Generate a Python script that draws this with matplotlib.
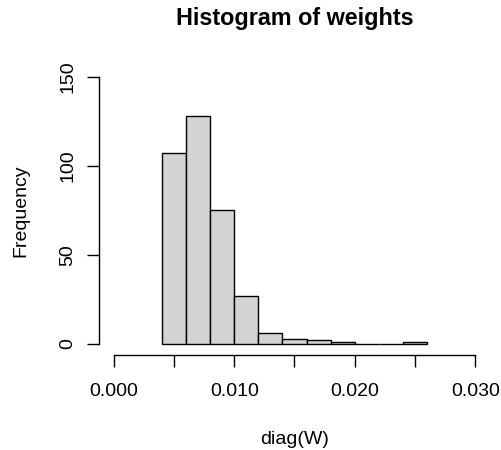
import matplotlib
matplotlib.use("Agg")
import matplotlib.pyplot as plt

# Datos del histograma
bordes = [0.004, 0.006, 0.008, 0.010, 0.012, 0.014, 0.016, 0.018, 0.020, 0.022, 0.024, 0.026]
frecuencias = [107, 128, 75, 27, 6, 3, 2, 1, 0, 0, 1]
ticks_x = [0.000, 0.005, 0.010, 0.015, 0.020, 0.025, 0.030]
etiquetas_x = ["0.000", "", "0.010", "", "0.020", "", "0.030"]
ticks_y = [0, 50, 100, 150]
etiquetas_y = ["0", "50", "100", "150"]

plt.rcParams["font.family"] = ["Liberation Sans", "DejaVu Sans"]

fig = plt.figure(figsize=(5.02, 4.5), dpi=100)
ax = fig.add_axes([0.1976, 0.2118, 0.7781, 0.6416])

anchos = [b - a for a, b in zip(bordes[:-1], bordes[1:])]
ax.bar(bordes[:-1], frecuencias, width=anchos, align="edge",
       color="#D3D3D3", edgecolor="black", linewidth=1.0)

# Limites estilo R (4% extra)
ax.set_xlim(-0.0012, 0.0312)
ax.set_ylim(-6, 156)

# Ejes estilo R base graphics
ax.spines["top"].set_visible(False)
ax.spines["right"].set_visible(False)
ax.spines["bottom"].set_bounds(0, 0.03)
ax.spines["left"].set_bounds(0, 150)
for s in ("bottom", "left"):
    ax.spines[s].set_linewidth(1.0)

ax.set_xticks(ticks_x)
ax.set_xticklabels(etiquetas_x)
ax.set_yticks(ticks_y)
ax.set_yticklabels(etiquetas_y, rotation=90, va="center")
ax.tick_params(axis="x", length=8.6, width=1.0, pad=12, labelsize=14)
ax.tick_params(axis="y", length=8.6, width=1.0, pad=8, labelsize=14)

ax.set_xlabel("diag(W)", fontsize=14)
ax.xaxis.set_label_coords(0.5, -0.2636)
ax.set_ylabel("Frequency", fontsize=14)
ax.yaxis.set_label_coords(-0.1797, 0.5)

ax.set_title("Histogram of weights", fontsize=16.8, fontweight="bold", pad=29.5)

plt.savefig("out.png", dpi=100)
